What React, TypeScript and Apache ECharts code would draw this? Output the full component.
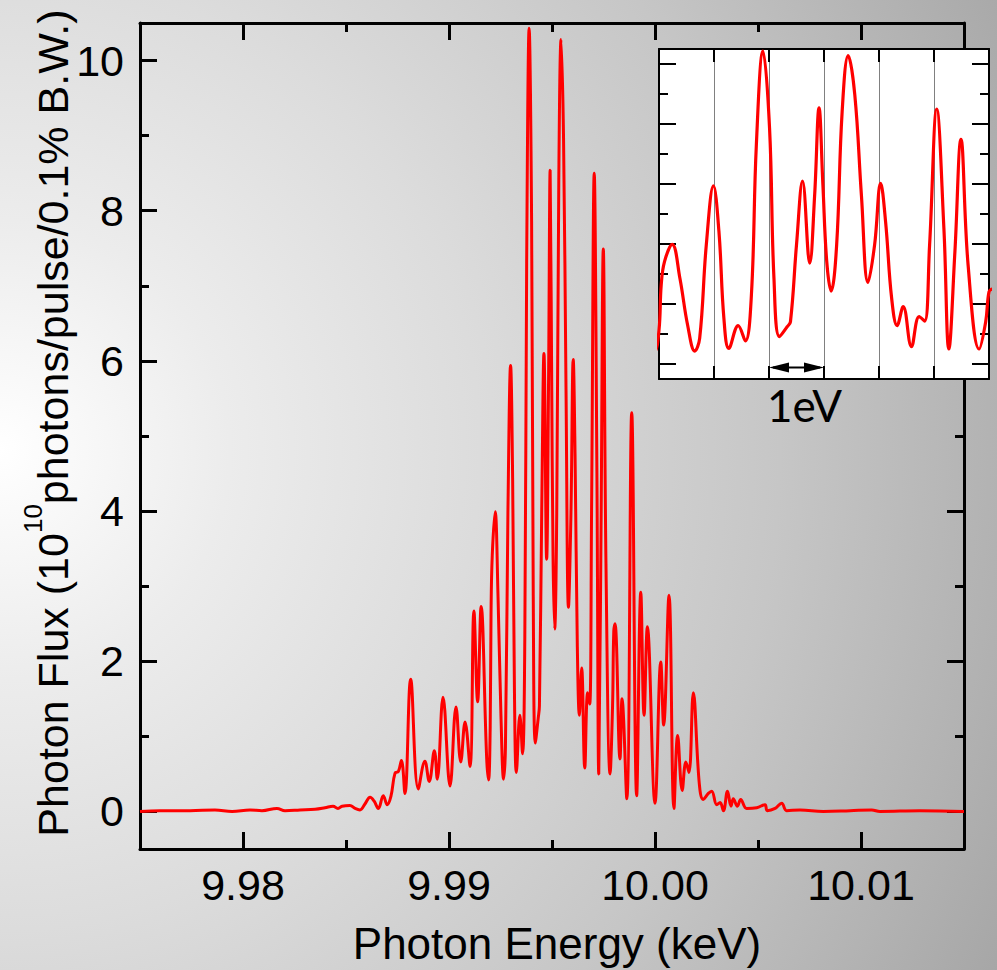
import React, { useEffect, useRef } from "react";
import * as echarts from "echarts";

// Photon energy (keV) and photon flux (10^10 photons/pulse/0.1% B.W.)
const energyKeV = [
  9.975, 9.97597, 9.97743, 9.97864, 9.97947, 9.98034, 9.98092, 9.98165, 9.98204, 9.98277,
  9.9835, 9.98398, 9.98437, 9.98461, 9.98481, 9.98519, 9.98544, 9.98568, 9.98592, 9.98617,
  9.98636, 9.98657, 9.98681, 9.987, 9.98718, 9.98738, 9.98754, 9.98769, 9.98786, 9.98814,
  9.98851, 9.98883, 9.98904, 9.98929, 9.98943, 9.98971, 9.99005, 9.99034, 9.99057, 9.99078,
  9.99102, 9.99121, 9.99139, 9.99156, 9.99183, 9.99192,
  9.992, 9.99204, 9.9921, 9.99224, 9.99238, 9.99252, 9.99265, 9.99274, 9.99286, 9.99299,
  9.99309, 9.99318, 9.99327, 9.99344, 9.99357, 9.99368, 9.99377, 9.99389, 9.99401, 9.99409,
  9.99419, 9.99433, 9.99439, 9.9945, 9.99461, 9.99474, 9.99483, 9.99491, 9.99498, 9.99505,
  9.99513, 9.99523, 9.99533, 9.99544, 9.99556, 9.99568, 9.9958, 9.99592, 9.99603, 9.99612,
  9.99623, 9.99633, 9.99644, 9.99659, 9.99673, 9.99683, 9.99692, 9.99705, 9.99718, 9.99727,
  9.99738, 9.99749, 9.99762, 9.99782, 9.99794, 9.998,
  9.99806, 9.9983, 9.9984, 9.99863, 9.99887, 9.99911, 9.99931, 9.99947, 9.99963, 10.0,
  10.00028, 10.00042, 10.00068, 10.00092, 10.0011, 10.00132, 10.0015, 10.00165, 10.00186, 10.00215,
  10.00234, 10.00259, 10.00275, 10.003, 10.00316, 10.00332, 10.00352, 10.00369, 10.0038, 10.004,
  10.00416, 10.00445, 10.00494, 10.00534, 10.00545, 10.00583, 10.00615, 10.00639, 10.00704, 10.00817,
  10.00947, 10.01052, 10.01092, 10.01286, 10.015,
];

const photonFlux = [
  0.0, 0.01, 0.01, 0.02, 0.0, 0.02, 0.01, 0.04, 0.01, 0.02,
  0.03, 0.05, 0.07, 0.04, 0.07, 0.08, 0.04, 0.02, 0.1, 0.19,
  0.14, 0.04, 0.21, 0.09, 0.2, 0.51, 0.53, 0.68, 0.24, 1.76,
  0.3, 0.67, 0.4, 0.81, 0.43, 1.52, 0.34, 1.39, 0.66, 1.19,
  0.6, 2.67, 1.46, 2.73, 0.7, 0.42,
  1.13, 2.63, 3.41, 3.99, 2.86, 1.3, 0.43, 0.86, 3.97, 5.94,
  4.41, 1.52, 0.52, 1.28, 0.77, 2.3, 7.3, 10.43, 7.86, 2.86,
  0.91, 1.24, 1.41, 3.97, 6.1, 3.36, 5.63, 8.54, 5.97, 3.41,
  2.43, 3.97, 8.41, 10.28, 8.97, 5.63, 2.72, 3.97, 6.02, 4.74,
  2.19, 1.28, 1.91, 0.58, 1.58, 1.43, 3.97, 8.5, 4.52, 0.5,
  3.74, 7.49, 3.3, 0.5, 1.41, 2.41,
  2.5, 0.7, 1.5, 0.17, 5.31, 0.21, 2.92, 1.28, 2.46, 0.11,
  1.99, 1.15, 2.88, 0.04, 1.01, 0.28, 0.66, 0.52, 1.58, 0.37,
  0.16, 0.24, 0.27, 0.09, 0.12, 0.01, 0.27, 0.07, 0.17, 0.07,
  0.16, 0.04, 0.05, 0.09, 0.01, 0.04, 0.11, 0.01, 0.02, 0.0,
  0.01, 0.02, 0.0, 0.01, 0.0,
];

// Axis ranges
const mainXRange = [9.975, 10.015];
const yRange = [-0.5, 10.5];
const insetXRange = [9.992, 9.998];
const scaleBar = [9.994, 9.995]; // 1 eV
const scaleBarLabel = "1eV";
const xTitle = "Photon Energy (keV)";
const yTitleParts = ["Photon Flux (10", "10", "photons/pulse/0.1% B.W.)"];

const FONT = "'Liberation Sans', Arial, Helvetica, sans-serif";

export default function App() {
  const ref = useRef<HTMLDivElement>(null);

  useEffect(() => {
    if (!ref.current) return;
    const chart = echarts.init(ref.current, undefined, { renderer: "svg" });
    const data = energyKeV.map((x, i) => [x, photonFlux[i]]);

    const mainTick = { show: true, inside: true, length: 17, lineStyle: { color: "#000", width: 3 } };
    const mainMinor = { show: true, splitNumber: 2, length: 9, lineStyle: { color: "#000", width: 3 } };
    const mainLine = { show: true, onZero: false, lineStyle: { color: "#000", width: 3 } };
    const labelStyle = { color: "#000", fontSize: 43, fontFamily: FONT };

    const insetTickY = { show: true, inside: true, length: 17, lineStyle: { color: "#000", width: 2 } };
    const insetMinorY = { show: true, splitNumber: 2, length: 9, lineStyle: { color: "#000", width: 2 } };
    const insetLine = { show: true, onZero: false, lineStyle: { color: "#000", width: 2 } };

    chart.setOption({
      animation: false,
      backgroundColor: "transparent",
      grid: [
        { left: 140, top: 23, width: 824, height: 826, containLabel: false },
        { left: 659, top: 49, width: 330, height: 330, show: true, backgroundColor: "#ffffff", borderWidth: 0, z: 10 },
      ],
      xAxis: [
        {
          type: "value", gridIndex: 0, position: "bottom", min: mainXRange[0], max: mainXRange[1],
          minInterval: 0.01, maxInterval: 0.01,
          axisLine: mainLine, axisTick: mainTick, minorTick: mainMinor, splitLine: { show: false },
          axisLabel: { ...labelStyle, margin: 14, showMinLabel: false, showMaxLabel: false, formatter: (v: number) => v.toFixed(2) },
        },
        {
          type: "value", gridIndex: 0, position: "top", min: mainXRange[0], max: mainXRange[1],
          minInterval: 0.01, maxInterval: 0.01,
          axisLine: mainLine, axisTick: mainTick, minorTick: mainMinor, splitLine: { show: false },
          axisLabel: { show: false },
        },
        {
          type: "value", gridIndex: 1, position: "bottom", min: insetXRange[0], max: insetXRange[1], interval: 0.001,
          axisLine: insetLine, axisTick: { show: true, inside: true, length: 13, lineStyle: { color: "#000", width: 2 } },
          splitLine: { show: true, lineStyle: { color: "#808080", width: 1 } },
          axisLabel: { show: false }, z: 11,
        },
        {
          type: "value", gridIndex: 1, position: "top", min: insetXRange[0], max: insetXRange[1], interval: 0.001,
          axisLine: insetLine, axisTick: { show: true, inside: true, length: 13, lineStyle: { color: "#000", width: 2 } },
          splitLine: { show: false }, axisLabel: { show: false }, z: 11,
        },
      ],
      yAxis: [
        {
          type: "value", gridIndex: 0, position: "left", min: yRange[0], max: yRange[1],
          minInterval: 2, maxInterval: 2,
          axisLine: mainLine, axisTick: mainTick, minorTick: mainMinor, splitLine: { show: false },
          axisLabel: { ...labelStyle, margin: 16, showMinLabel: false, showMaxLabel: false, formatter: (v: number) => String(Math.round(v)) },
        },
        {
          type: "value", gridIndex: 0, position: "right", min: yRange[0], max: yRange[1],
          minInterval: 2, maxInterval: 2,
          axisLine: mainLine, axisTick: mainTick, minorTick: mainMinor, splitLine: { show: false },
          axisLabel: { show: false },
        },
        {
          type: "value", gridIndex: 1, position: "left", min: yRange[0], max: yRange[1],
          minInterval: 2, maxInterval: 2,
          axisLine: insetLine, axisTick: insetTickY, minorTick: insetMinorY, splitLine: { show: false },
          axisLabel: { show: false }, z: 11,
        },
        {
          type: "value", gridIndex: 1, position: "right", min: yRange[0], max: yRange[1],
          minInterval: 2, maxInterval: 2,
          axisLine: insetLine, axisTick: insetTickY, minorTick: insetMinorY, splitLine: { show: false },
          axisLabel: { show: false }, z: 11,
        },
      ],
      series: [
        {
          type: "line", xAxisIndex: 0, yAxisIndex: 0, data, showSymbol: false, smooth: 0.4,
          lineStyle: { color: "#ff0000", width: 3 }, z: 2, clip: true,
        },
        {
          type: "line", xAxisIndex: 2, yAxisIndex: 2, data, showSymbol: false, smooth: 0.4,
          lineStyle: { color: "#ff0000", width: 3.2 }, z: 12, clip: true,
        },
      ],
    });

    const a = chart.convertToPixel({ gridIndex: 1 }, [scaleBar[0], -0.12]) as number[];
    const b = chart.convertToPixel({ gridIndex: 1 }, [scaleBar[1], -0.12]) as number[];
    const ay = a[1];
    const head = 20;
    const half = 5;

    chart.setOption({
      graphic: [
        {
          type: "line", z: 20,
          shape: { x1: a[0] + 4, y1: ay, x2: b[0] - 4, y2: ay },
          style: { stroke: "#000", lineWidth: 2 },
        },
        {
          type: "polygon", z: 20,
          shape: { points: [[a[0], ay], [a[0] + head, ay - half], [a[0] + head, ay + half]] },
          style: { fill: "#000" },
        },
        {
          type: "polygon", z: 20,
          shape: { points: [[b[0], ay], [b[0] - head, ay - half], [b[0] - head, ay + half]] },
          style: { fill: "#000" },
        },
        {
          type: "text", z: 20, x: (a[0] + b[0]) / 2 + 8, y: 405,
          style: {
            text: scaleBarLabel, fill: "#000", fontSize: 44, fontFamily: "Lato, 'DejaVu Sans', sans-serif",
            textAlign: "center", textVerticalAlign: "middle", align: "center", verticalAlign: "middle",
          },
        },
        {
          type: "text", z: 20, x: 557, y: 943,
          style: {
            text: xTitle, fill: "#000", fontSize: 44, fontFamily: FONT,
            textAlign: "center", textVerticalAlign: "middle", align: "center", verticalAlign: "middle",
          },
        },
        {
          type: "text", z: 20, x: 47, y: 423, rotation: Math.PI / 2,
          style: {
            text: `{a|${yTitleParts[0]}}{s|${yTitleParts[1]}}{a|${yTitleParts[2]}}`,
            fill: "#000",
            textAlign: "center", textVerticalAlign: "middle", align: "center", verticalAlign: "middle",
            rich: {
              a: { fontSize: 43, fontFamily: FONT, fill: "#000", lineHeight: 55, verticalAlign: "bottom" },
              s: { fontSize: 26, fontFamily: FONT, fill: "#000", lineHeight: 26, verticalAlign: "top" },
            },
          },
        },
      ],
    });

    return () => chart.dispose();
  }, []);

  return (
    <div
      style={{
        position: "absolute", left: 0, top: 0, width: 997, height: 970,
        background:
          "radial-gradient(circle 1150px at 0px 450px, #ffffff 0px, #ececec 230px, #dcdcdc 480px, #c6c6c6 780px, #b2b2b2 1000px, #a4a4a4 1150px)",
      }}
    >
      <div ref={ref} style={{ width: 997, height: 970 }} />
    </div>
  );
}
